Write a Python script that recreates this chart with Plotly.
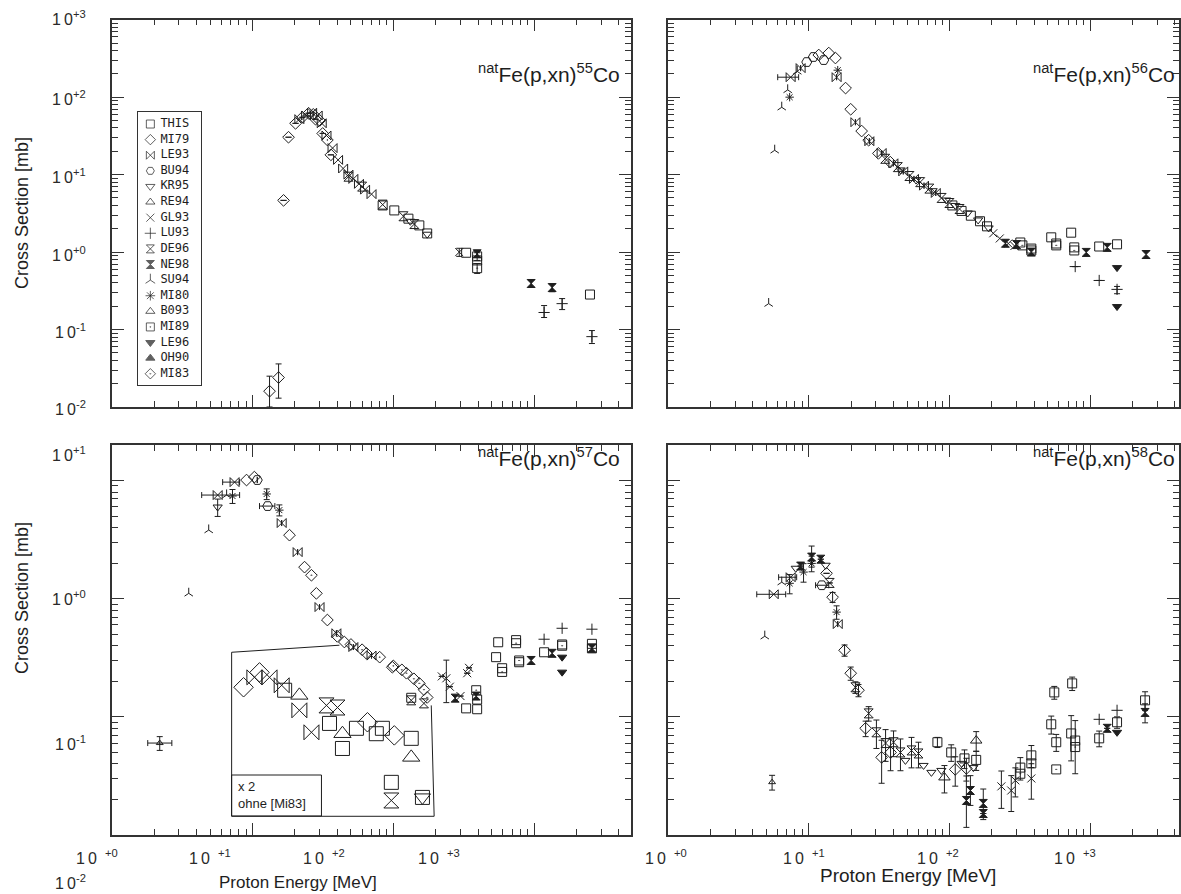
import plotly.graph_objects as go

W, H = 1181, 894
INK = "#1e1e1e"
FONT = "Liberation Sans, Arial, sans-serif"

def px(x):
    return x / W

def py(y):
    return 1 - y / H

# ---------------- dataset styles (legend order) ----------------
ds_names = ["THIS", "MI79", "LE93", "BU94", "KR95", "RE94", "GL93", "LU93", "DE96",
            "NE98", "SU94", "MI80", "B093", "MI89", "LE96", "OH90", "MI83"]
ds_symbols = ["square-open", "diamond-open", "bowtie-open", "hexagon2-open", "triangle-down-open",
              "triangle-up-open", "x-thin-open", "cross-thin-open", "hourglass-open", "hourglass",
              "y-up-open", "asterisk-open", "triangle-up-open", "square-open-dot", "triangle-down",
              "triangle-up", "diamond-open-dot"]
ds_sizes = [9, 9, 9, 10, 8, 6, 8, 8, 9, 8, 7, 7, 10, 9, 8, 8, 9]

# ---------------- natFe(p,xn)55Co ----------------
co55_mi79_e = [13.2, 15.3, 16.6, 18.0, 20.2, 22.6, 25.0, 28.0, 31.5, 36.0]
co55_mi79_s = [0.016, 0.024, 4.65, 30.4, 45.9, 55.0, 62.0, 52.0, 34.0, 18.0]
co55_mi79_ep = [0.009, 0.012, None, None, None, None, None, None, None, None]
co55_mi79_em = [0.006, 0.011, None, None, None, None, None, None, None, None]
co55_le93_e = [21.5, 24.0, 26.5, 29.0, 31.0, 33.5, 37.0, 40.5, 44.0, 48.0, 52.0, 57.0, 63.0, 70.0]
co55_le93_s = [52.0, 58.0, 63.0, 58.0, 46.0, 32.0, 22.0, 15.5, 12.0, 10.0, 8.8, 7.6, 6.4, 5.6]
co55_mi83_e = [27.0, 30.0, 34.0]
co55_mi83_s = [60.0, 50.0, 28.0]
co55_de96_e = [48.0, 60.0, 84.0, 118.0, 141.0]
co55_de96_s = [9.4, 7.0, 4.1, 2.9, 2.3]
co55_this_e = [84.0, 101.6, 128.0, 153.0, 174.0, 329.0, 394.0, 2495.0]
co55_this_s = [4.0, 3.45, 2.7, 2.21, 1.74, 0.98, 0.78, 0.283]
co55_kr95_e = [132.0, 174.0]
co55_kr95_s = [2.5, 1.7]
co55_gl93_e = [294.0]
co55_gl93_s = [1.0]
co55_gl93_err = [0.12]
co55_mi89_e = [394.0, 394.0]
co55_mi89_s = [0.62, 0.88]
co55_mi89_err = [0.09, 0.1]
co55_ne98_e = [394.0, 953.0, 1343.0]
co55_ne98_s = [0.95, 0.393, 0.348]
co55_ne98_err = [0.1, 0.04, 0.04]
co55_lu93_e = [1178.0, 1582.0, 2576.0]
co55_lu93_s = [0.166, 0.216, 0.081]
co55_lu93_ep = [0.038, 0.035, 0.016]
co55_lu93_em = [0.023, 0.035, 0.015]

# ---------------- natFe(p,xn)56Co ----------------
co56_su94_e = [5.2, 5.74, 6.44, 7.1, 8.3]
co56_su94_s = [0.216, 20.6, 74.0, 124.0, 215.0]
co56_mi80_e = [7.33, 16.1]
co56_mi80_s = [100.0, 223.0]
co56_le93_e = [7.45, 8.77, 15.8, 21.5, 27.0, 33.0, 40.0, 47.0, 56.0, 66.0, 80.0]
co56_le93_s = [181.0, 237.0, 181.0, 47.5, 27.0, 19.0, 14.0, 11.0, 8.8, 7.2, 5.8]
co56_le93_xp = [1.04, None, None, None, None, None, None, None, None, None, None]
co56_le93_xm = [1.42, None, None, None, None, None, None, None, None, None, None]
co56_bu94_e = [9.7, 10.8, 12.8]
co56_bu94_s = [284.0, 330.0, 301.0]
co56_mi79_e = [11.8, 13.9, 15.5, 18.3, 19.9, 23.8, 26.7, 31.3, 38.0]
co56_mi79_s = [350.0, 371.0, 320.0, 131.0, 69.8, 36.5, 27.8, 18.8, 14.5]
co56_de96_e = [35.0, 43.0, 52.0, 62.0, 72.0, 88.0, 100.0, 118.0]
co56_de96_s = [16.0, 12.5, 9.6, 8.0, 6.6, 5.0, 4.3, 3.6]
co56_kr95_e = [45.0, 58.0, 76.0, 95.0, 110.0, 135.0, 160.0, 190.0]
co56_kr95_s = [11.5, 8.5, 6.2, 4.7, 4.0, 3.2, 2.6, 2.05]
co56_gl93_e = [205.0, 228.0, 262.0, 290.0]
co56_gl93_s = [1.75, 1.5, 1.29, 1.2]
co56_this_e = [105.0, 122.0, 142.0, 165.0, 185.0, 319.0, 382.0, 529.0, 574.0, 733.0, 771.0, 1159.0, 1552.0]
co56_this_s = [4.0, 3.4, 2.95, 2.5, 2.15, 1.33, 1.11, 1.55, 1.29, 1.78, 1.15, 1.18, 1.26]
co56_mi89_e = [330.0, 382.0, 574.0, 771.0]
co56_mi89_s = [1.22, 1.05, 1.22, 1.05]
co56_ne98_e = [250.0, 300.0, 382.0, 937.0, 1321.0, 2495.0]
co56_ne98_s = [1.3, 1.25, 1.0, 0.99, 1.15, 0.93]
co56_lu93_e = [783.0, 1159.0, 1552.0]
co56_lu93_s = [0.65, 0.43, 0.33]
co56_lu93_ep = [None, None, 0.03]
co56_lu93_em = [None, None, 0.04]
co56_le96_e = [1552.0, 1552.0]
co56_le96_s = [0.63, 0.198]

# ---------------- natFe(p,xn)57Co ----------------
co57_su94_e = [3.52, 4.88, 6.54]
co57_su94_s = [1.11, 3.81, 7.54]
co57_re94_e = [2.19]
co57_re94_s = [0.06]
co57_re94_xp = [0.48]
co57_re94_xm = [0.39]
co57_re94_err = [0.008]
co57_le93_e = [5.65, 7.45, 16.1, 20.9, 29.9, 39.4, 52.0, 70.0]
co57_le93_s = [7.54, 9.7, 4.37, 2.48, 0.85, 0.51, 0.39, 0.33]
co57_le93_xp = [2.44, 0.64, None, None, None, None, None, None]
co57_le93_xm = [1.3, 1.32, None, None, None, None, None, None]
co57_kr95_e = [5.65]
co57_kr95_s = [5.97]
co57_kr95_err = [1.0]
co57_mi80_e = [7.2, 12.6, 15.5]
co57_mi80_s = [7.4, 7.7, 5.62]
co57_mi80_err = [1.0, 0.8, 0.6]
co57_mi79_e = [9.06, 10.3, 18.3, 23.4, 28.4, 34.0, 44.9, 64.4, 98.4]
co57_mi79_s = [10.1, 10.7, 3.45, 1.85, 1.11, 0.66, 0.43, 0.345, 0.263]
co57_bu94_e = [10.8, 12.8]
co57_bu94_s = [10.1, 6.08]
co57_bu94_xp = [None, 1.6]
co57_bu94_xm = [None, 1.6]
co57_mi83_e = [26.2, 40.0, 50.0, 60.0, 80.0, 100.0, 115.0, 124.0, 140.0, 153.0, 165.0, 174.0]
co57_mi83_s = [1.58, 0.48, 0.41, 0.37, 0.32, 0.27, 0.25, 0.234, 0.21, 0.192, 0.17, 0.146]
co57_de96_e = [134.0, 165.0]
co57_de96_s = [0.138, 0.13]
co57_this_e = [134.0, 329.0, 394.0, 537.0, 556.0, 593.0, 745.0, 783.0, 1178.0, 1582.0, 2576.0]
co57_this_s = [0.145, 0.118, 0.116, 0.32, 0.428, 0.258, 0.446, 0.29, 0.352, 0.41, 0.415]
co57_gl93_e = [221.0, 238.0, 252.0, 300.0, 335.0, 345.0]
co57_gl93_s = [0.22, 0.212, 0.18, 0.15, 0.234, 0.26]
co57_gl93_ep = [None, 0.09, None, None, None, None]
co57_gl93_em = [None, 0.08, None, None, None, None]
co57_ne98_e = [275.0, 388.0, 953.0, 1343.0, 2576.0]
co57_ne98_s = [0.144, 0.15, 0.30, 0.345, 0.38]
co57_mi89_e = [388.0, 394.0, 593.0, 745.0, 783.0, 1582.0, 2576.0]
co57_mi89_s = [0.168, 0.14, 0.24, 0.42, 0.30, 0.40, 0.38]
co57_lu93_e = [1178.0, 1582.0, 2576.0]
co57_lu93_s = [0.454, 0.562, 0.552]
co57_le96_e = [1582.0, 1582.0]
co57_le96_s = [0.32, 0.239]

# inset (x 2, without Mi83)
inset_mi79_e = [8.63, 11.2, 65.5, 101.6]
inset_mi79_s = [0.178, 0.238, 0.09, 0.0697]
inset_le93_e = [10.3, 13.2, 16.1, 21.5, 26.2]
inset_le93_s = [0.216, 0.216, 0.185, 0.1136, 0.074]
inset_this_e = [16.9, 35.2, 43.5, 54.7, 75.7, 83.6, 134.0, 96.8, 161.0]
inset_this_s = [0.168, 0.088, 0.054, 0.080, 0.072, 0.08, 0.0658, 0.0279, 0.0208]
inset_b093_e = [21.5, 43.5, 134.0]
inset_b093_s = [0.152, 0.072, 0.0454]
inset_de96_e = [33.5, 40.1, 96.8]
inset_de96_s = [0.125, 0.12, 0.0196]
inset_kr95_e = [161.0]
inset_kr95_s = [0.0208]
inset_frame_e = [7.1, 7.1, 41.4, None, 186.0, 195.0, 7.1]
inset_frame_s = [0.0144, 0.352, 0.404, None, 0.125, 0.0144, 0.0144]

# ---------------- natFe(p,xn)58Co ----------------
co58_su94_e = [4.88, 6.44]
co58_su94_s = [0.481, 1.38]
co58_re94_e = [5.5]
co58_re94_s = [0.028]
co58_re94_err = [0.004]
co58_le93_e = [5.65, 7.45, 16.1]
co58_le93_s = [1.09, 1.52, 0.61]
co58_le93_xp = [1.22, 0.77, None]
co58_le93_xm = [1.37, 1.33, None]
co58_mi80_e = [7.33, 9.2, 10.5, 15.8]
co58_mi80_s = [1.35, 1.68, 1.99, 0.77]
co58_mi80_err = [0.25, 0.3, 0.3, 0.1]
co58_kr95_e = [8.1, 13.2, 48.7, 65.5, 74.5, 87.7, 122.0, 148.0]
co58_kr95_s = [1.81, 1.92, 0.0428, 0.0388, 0.0339, 0.0352, 0.0404, 0.0372]
co58_ne98_e = [8.77, 10.5, 12.2, 132.0, 141.0, 174.0, 174.0, 1321.0, 2455.0]
co58_ne98_s = [1.89, 2.25, 2.16, 0.0196, 0.0238, 0.0185, 0.0152, 0.08, 0.109]
co58_ne98_ep = [None, 0.54, None, 0.012, 0.008, 0.006, None, None, 0.02]
co58_ne98_em = [None, 0.4, None, 0.008, 0.006, 0.005, None, None, 0.02]
co58_bu94_e = [12.4]
co58_bu94_s = [1.30]
co58_bu94_xp = [1.5]
co58_bu94_xm = [1.2]
co58_mi79_e = [13.4, 14.8, 18.0, 19.9, 22.6, 25.4, 33.0, 38.2, 110.0, 132.0]
co58_mi79_s = [1.64, 1.03, 0.366, 0.234, 0.168, 0.08, 0.0454, 0.05, 0.0359, 0.0366]
co58_mi79_err = [None, 0.1, 0.04, 0.03, 0.02, 0.012, 0.018, 0.015, 0.01, 0.008]
co58_de96_e = [14.1, 21.5, 26.7, 30.3, 35.2, 40.1, 44.9, 53.8, 60.3]
co58_de96_s = [1.36, 0.178, 0.107, 0.074, 0.06, 0.061, 0.05, 0.052, 0.049]
co58_de96_err = [None, 0.02, 0.015, 0.02, 0.018, 0.015, 0.015, 0.015, 0.012]
co58_this_e = [82.2, 103.0, 128.0, 155.0, 319.0, 382.0, 529.0, 556.0, 574.0, 733.0, 745.0, 783.0, 1159.0, 1552.0, 2455.0]
co58_this_s = [0.061, 0.05, 0.0445, 0.0432, 0.0372, 0.0472, 0.0865, 0.161, 0.061, 0.0724, 0.192, 0.063, 0.0658, 0.09, 0.138]
co58_this_err = [0.006, 0.008, 0.008, 0.008, 0.008, 0.01, 0.015, 0.02, 0.01, 0.03, 0.025, 0.03, 0.01, 0.01, 0.025]
co58_b093_e = [92.2, 155.0]
co58_b093_s = [0.0307, 0.063]
co58_b093_err = [0.008, 0.012]
co58_gl93_e = [234.0, 275.0, 294.0, 382.0]
co58_gl93_s = [0.0258, 0.0238, 0.029, 0.0301]
co58_gl93_err = [0.009, 0.008, 0.008, 0.01]
co58_mi89_e = [319.0, 382.0, 574.0, 783.0]
co58_mi89_s = [0.033, 0.0404, 0.0359, 0.0555]
co58_lu93_e = [1159.0, 1552.0]
co58_lu93_s = [0.0953, 0.1136]
co58_le96_e = [1552.0]
co58_le96_s = [0.074]

# ---------------- figure ----------------
fig = go.Figure()
AX = {1: ("x", "y"), 2: ("x2", "y2"), 3: ("x3", "y3"), 4: ("x4", "y4")}


def err(ep, em=None):
    if ep is None:
        return None
    return dict(type="data", symmetric=em is None, array=ep, arrayminus=em,
                color=INK, thickness=1, width=3)


def add(panel, ds, e, s, eyp=None, eym=None, exp=None, exm=None, size=None):
    i = ds_names.index(ds)
    sym = ds_symbols[i]
    xa, ya = AX[panel]
    fig.add_trace(go.Scatter(
        x=e, y=s, xaxis=xa, yaxis=ya, mode="markers", showlegend=False,
        marker=dict(symbol=sym, size=size or ds_sizes[i], color=INK,
                    line=dict(color=INK, width=1)),
        error_y=err(eyp, eym), error_x=err(exp, exm), cliponaxis=True))


# 55Co
add(1, "MI79", co55_mi79_e, co55_mi79_s, co55_mi79_ep, co55_mi79_em)
add(1, "LE93", co55_le93_e, co55_le93_s)
add(1, "MI83", co55_mi83_e, co55_mi83_s)
add(1, "DE96", co55_de96_e, co55_de96_s)
add(1, "THIS", co55_this_e, co55_this_s)
add(1, "KR95", co55_kr95_e, co55_kr95_s)
add(1, "GL93", co55_gl93_e, co55_gl93_s, co55_gl93_err)
add(1, "MI89", co55_mi89_e, co55_mi89_s, co55_mi89_err)
add(1, "NE98", co55_ne98_e, co55_ne98_s, co55_ne98_err)
add(1, "LU93", co55_lu93_e, co55_lu93_s, co55_lu93_ep, co55_lu93_em)

# 56Co
add(2, "SU94", co56_su94_e, co56_su94_s)
add(2, "MI80", co56_mi80_e, co56_mi80_s)
add(2, "LE93", co56_le93_e, co56_le93_s, exp=co56_le93_xp, exm=co56_le93_xm)
add(2, "BU94", co56_bu94_e, co56_bu94_s)
add(2, "MI79", co56_mi79_e, co56_mi79_s)
add(2, "DE96", co56_de96_e, co56_de96_s)
add(2, "KR95", co56_kr95_e, co56_kr95_s)
add(2, "GL93", co56_gl93_e, co56_gl93_s)
add(2, "THIS", co56_this_e, co56_this_s)
add(2, "MI89", co56_mi89_e, co56_mi89_s)
add(2, "NE98", co56_ne98_e, co56_ne98_s)
add(2, "LU93", co56_lu93_e, co56_lu93_s, co56_lu93_ep, co56_lu93_em)
add(2, "LE96", co56_le96_e, co56_le96_s)

# 57Co
add(3, "SU94", co57_su94_e, co57_su94_s)
add(3, "RE94", co57_re94_e, co57_re94_s, co57_re94_err, exp=co57_re94_xp, exm=co57_re94_xm)
add(3, "LE93", co57_le93_e, co57_le93_s, exp=co57_le93_xp, exm=co57_le93_xm)
add(3, "KR95", co57_kr95_e, co57_kr95_s, co57_kr95_err)
add(3, "MI80", co57_mi80_e, co57_mi80_s, co57_mi80_err)
add(3, "MI79", co57_mi79_e, co57_mi79_s)
add(3, "BU94", co57_bu94_e, co57_bu94_s, exp=co57_bu94_xp, exm=co57_bu94_xm)
add(3, "MI83", co57_mi83_e, co57_mi83_s)
add(3, "DE96", co57_de96_e, co57_de96_s)
add(3, "THIS", co57_this_e, co57_this_s)
add(3, "GL93", co57_gl93_e, co57_gl93_s, co57_gl93_ep, co57_gl93_em)
add(3, "NE98", co57_ne98_e, co57_ne98_s)
add(3, "MI89", co57_mi89_e, co57_mi89_s)
add(3, "LU93", co57_lu93_e, co57_lu93_s)
add(3, "LE96", co57_le96_e, co57_le96_s)

fig.add_trace(go.Scatter(x=inset_frame_e, y=inset_frame_s, xaxis="x3", yaxis="y3",
                         mode="lines", line=dict(color=INK, width=1), showlegend=False))
add(3, "MI79", inset_mi79_e, inset_mi79_s, size=15)
add(3, "LE93", inset_le93_e, inset_le93_s, size=15)
add(3, "THIS", inset_this_e, inset_this_s, size=14)
add(3, "B093", inset_b093_e, inset_b093_s, size=15)
add(3, "DE96", inset_de96_e, inset_de96_s, size=15)
add(3, "KR95", inset_kr95_e, inset_kr95_s, size=14)

# 58Co
add(4, "SU94", co58_su94_e, co58_su94_s)
add(4, "RE94", co58_re94_e, co58_re94_s, co58_re94_err)
add(4, "LE93", co58_le93_e, co58_le93_s, exp=co58_le93_xp, exm=co58_le93_xm)
add(4, "MI80", co58_mi80_e, co58_mi80_s, co58_mi80_err)
add(4, "KR95", co58_kr95_e, co58_kr95_s)
add(4, "NE98", co58_ne98_e, co58_ne98_s, co58_ne98_ep, co58_ne98_em)
add(4, "BU94", co58_bu94_e, co58_bu94_s, exp=co58_bu94_xp, exm=co58_bu94_xm)
add(4, "MI79", co58_mi79_e, co58_mi79_s, co58_mi79_err)
add(4, "DE96", co58_de96_e, co58_de96_s, co58_de96_err)
add(4, "THIS", co58_this_e, co58_this_s, co58_this_err)
add(4, "B093", co58_b093_e, co58_b093_s, co58_b093_err)
add(4, "GL93", co58_gl93_e, co58_gl93_s, co58_gl93_err)
add(4, "MI89", co58_mi89_e, co58_mi89_s)
add(4, "LU93", co58_lu93_e, co58_lu93_s)
add(4, "LE96", co58_le96_e, co58_le96_s)

# legend drawn on its own small axis
leg_rows = list(range(len(ds_names)))
fig.add_trace(go.Scatter(
    x=[0.2] * len(ds_names), y=leg_rows, xaxis="x5", yaxis="y5", mode="markers",
    showlegend=False,
    marker=dict(symbol=ds_symbols, size=[8] * len(ds_names), color=INK,
                line=dict(color=INK, width=1))))
fig.add_trace(go.Scatter(
    x=[0.36] * len(ds_names), y=leg_rows, xaxis="x5", yaxis="y5", mode="text",
    text=ds_names, textposition="middle right", showlegend=False,
    textfont=dict(family="DejaVu Sans Mono, monospace", size=12, color=INK)))

# ---------------- axes ----------------
L_X = [px(112), px(632)]
R_X = [px(669), 1.0]
T_Y = [py(407), py(19.7)]
B_Y = [py(835), py(445)]


def log_axis(domain, rng, anchor):
    return dict(type="log", domain=domain, range=rng, anchor=anchor,
                showline=True, linecolor="#333", linewidth=1.5, mirror="ticks",
                ticks="inside", ticklen=12, tickwidth=1.3, tickcolor="#333", dtick=1,
                showticklabels=False, showgrid=False, zeroline=False,
                minor=dict(ticks="inside", ticklen=6, tickwidth=1, tickcolor="#333",
                           dtick="D1", showgrid=False))


layout = dict(
    width=W, height=H, margin=dict(l=0, r=0, t=0, b=0),
    paper_bgcolor="white", plot_bgcolor="white", showlegend=False,
    xaxis=log_axis(L_X, [0, 3.688], "y"),
    yaxis=log_axis(T_Y, [-2, 3], "x"),
    xaxis2=log_axis(R_X, [0, 3.631], "y2"),
    yaxis2=log_axis(T_Y, [-2, 3], "x2"),
    xaxis3=log_axis(L_X, [0, 3.688], "y3"),
    yaxis3=log_axis(B_Y, [-2, 1.301], "x3"),
    xaxis4=log_axis(R_X, [0, 3.631], "y4"),
    yaxis4=log_axis(B_Y, [-2, 1.301], "x4"),
    xaxis5=dict(domain=[px(138), px(201)], range=[0, 1], anchor="y5", showline=True,
                mirror=True, linecolor="#333", linewidth=1, showticklabels=False,
                ticks="", showgrid=False, zeroline=False, fixedrange=True),
    yaxis5=dict(domain=[py(385), py(112)], range=[16.72, -0.77], anchor="x5", showline=True,
                mirror=True, linecolor="#333", linewidth=1, showticklabels=False,
                ticks="", showgrid=False, zeroline=False, fixedrange=True),
)
fig.update_layout(**layout)

ann = []
tick_font = dict(family=FONT, size=16, color="#2a2a2a")


def label(text, x, y, xa="center", ya="middle", font=None, angle=0, align="center"):
    ann.append(dict(text=text, x=px(x), y=py(y), xref="paper", yref="paper", xanchor=xa,
                    yanchor=ya, showarrow=False, font=font or tick_font, textangle=angle,
                    align=align))


TEN = "1\u20090"
# y tick labels (left column)
for ex, yy in [("+3", 18), ("+2", 98), ("+1", 176), ("+0", 254), ("-1", 331), ("-2", 408)]:
    label(TEN + "<sup>%s</sup>" % ex, 88, yy, xa="right")
for ex, yy in [("+1", 454), ("+0", 598), ("-1", 743), ("-2", 882)]:
    label(TEN + "<sup>%s</sup>" % ex, 88, yy, xa="right")
# x tick labels (bottom row)
for cx, ex in [(74, "+0"), (187, "+1"), (302, "+2"), (417, "+3")]:
    label(TEN + "\u2002<sup>%s</sup>" % ex, cx, 857, xa="left")
for cx, ex in [(644, "+0"), (782, "+1"), (917, "+2"), (1054, "+3")]:
    label(TEN + "\u2002<sup>%s</sup>" % ex, cx, 857, xa="left")
# axis titles
label("Proton Energy [MeV]", 299, 882, font=dict(family=FONT, size=17, color=INK))
label("Proton Energy [MeV]", 910, 875, font=dict(family=FONT, size=19, color=INK))
for yy in (213, 598):
    label("Cross Section [mb]", 22, yy, font=dict(family=FONT, size=18, color=INK), angle=-90)
# panel titles
for xr, yy, iso in [(623, 73, "55"), (1179, 73, "56"), (623, 457, "57"), (1179, 457, "58")]:
    label("<sup>nat</sup>Fe(p,xn)<sup>%s</sup>Co" % iso, xr, yy, xa="right",
          font=dict(family=FONT, size=21, color=INK))
# inset note
label("x 2<br>ohne [Mi83]", 236, 795, xa="left", align="left",
      font=dict(family=FONT, size=13, color=INK))

fig.update_layout(annotations=ann, shapes=[
    dict(type="rect", xref="paper", yref="paper", x0=px(232), x1=px(322), y0=py(816), y1=py(775),
         line=dict(color=INK, width=1))])

fig.write_html("out.html")
